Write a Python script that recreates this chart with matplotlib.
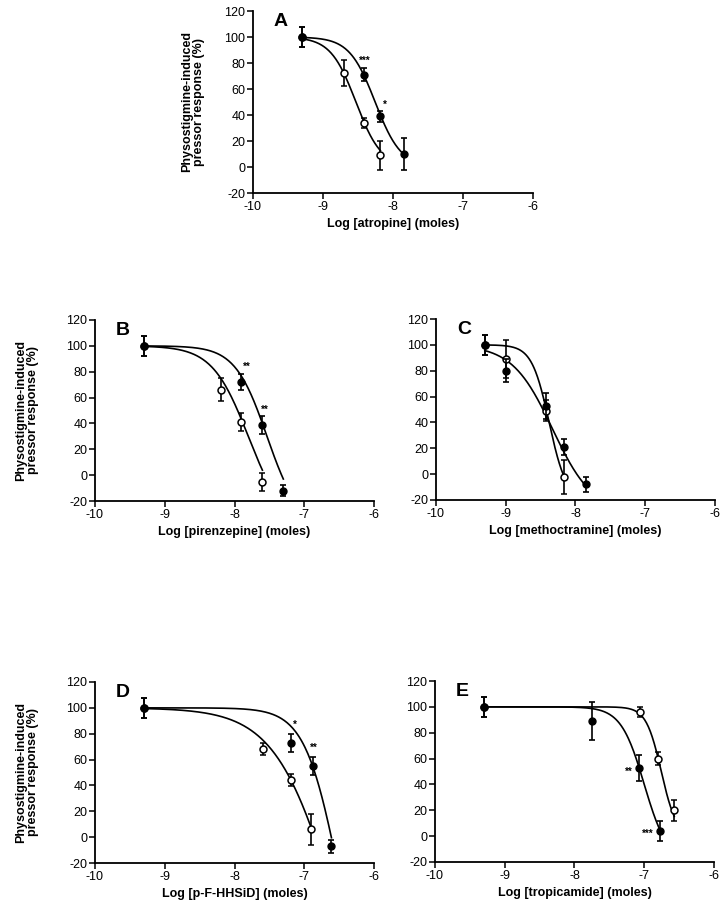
import numpy as np
import matplotlib
matplotlib.use("Agg")
import matplotlib.pyplot as plt

plt.rcParams['font.family'] = ['Liberation Sans', 'DejaVu Sans']
plt.rcParams['axes.unicode_minus'] = False

# --- data (log dose, % response, SEM) ---
# A: atropine
a_open_x = [-9.3, -8.7, -8.41, -8.18]
a_open_y = [100, 72, 34, 9]
a_open_e = [8, 10, 4, 11]
a_fill_x = [-9.3, -8.41, -8.18, -7.85]
a_fill_y = [100, 71, 39, 10]
a_fill_e = [8, 5, 4, 12]

# B: pirenzepine
b_open_x = [-9.3, -8.2, -7.9, -7.6]
b_open_y = [100, 66, 41, -5]
b_open_e = [8, 9, 7, 7]
b_fill_x = [-9.3, -7.9, -7.6, -7.3]
b_fill_y = [100, 72, 39, -12]
b_fill_e = [8, 6, 7, 4]

# C: methoctramine
c_open_x = [-9.3, -9.0, -8.42, -8.17]
c_open_y = [100, 89, 49, -2]
c_open_e = [8, 15, 8, 13]
c_fill_x = [-9.3, -9.0, -8.42, -8.17, -7.85]
c_fill_y = [100, 80, 53, 21, -8]
c_fill_e = [8, 9, 10, 6, 6]

# D: p-F-HHSiD
d_open_x = [-9.3, -7.585, -7.19, -6.9]
d_open_y = [100, 68, 44, 6]
d_open_e = [8, 4.5, 4.5, 12]
d_fill_x = [-9.3, -7.19, -6.88, -6.61]
d_fill_y = [100, 73, 55, -7]
d_fill_e = [8, 7, 7, 5]

# E: tropicamide
e_open_x = [-9.3, -7.06, -6.8, -6.57]
e_open_y = [100, 96, 60, 20]
e_open_e = [8, 4, 5, 8]
e_fill_x = [-9.3, -7.75, -7.08, -6.77]
e_fill_y = [100, 89, 53, 4]
e_fill_e = [8, 14.5, 10, 8]

# fitted sigmoid parameters (top, bottom, logIC50, hill) as drawn
fits = {
    'A': [(100, 0, -8.53, 2.4), (100, 0, -8.255, 2.36)],
    'B': [(100, -40, -7.803, 1.68), (100, -40, -7.534, 1.9)],
    'C': [(100, -20, -8.378, 3.5), (100, -30, -8.33, 1.5)],
    'D': [(100, -200, -6.551, 1.0), (100, -150, -6.514, 1.8)],
    'E': [(100, 0, -6.756, 4.0), (100, -20, -7.0, 2.6)],
}

# significance marks: (x, y, text, ha, va)
stars = {
    'A': [(-8.4, 78, '***', 'center', 'bottom'), (-8.12, 44, '*', 'center', 'bottom')],
    'B': [(-7.83, 80, '**', 'center', 'bottom'), (-7.56, 47, '**', 'center', 'bottom')],
    'C': [],
    'D': [(-7.13, 83, '*', 'center', 'bottom'), (-6.86, 65, '**', 'center', 'bottom')],
    'E': [(-7.17, 50, '**', 'right', 'center'), (-6.86, 2, '***', 'right', 'center')],
}

drugs = {'A': 'atropine', 'B': 'pirenzepine', 'C': 'methoctramine',
         'D': 'p-F-HHSiD', 'E': 'tropicamide'}

series = {
    'A': (a_open_x, a_open_y, a_open_e, a_fill_x, a_fill_y, a_fill_e),
    'B': (b_open_x, b_open_y, b_open_e, b_fill_x, b_fill_y, b_fill_e),
    'C': (c_open_x, c_open_y, c_open_e, c_fill_x, c_fill_y, c_fill_e),
    'D': (d_open_x, d_open_y, d_open_e, d_fill_x, d_fill_y, d_fill_e),
    'E': (e_open_x, e_open_y, e_open_e, e_fill_x, e_fill_y, e_fill_e),
}

W, H = 721, 911
fig = plt.figure(figsize=(W / 100, H / 100), dpi=100)

# axes boxes in pixels: left, top, width, height
boxes = {
    'A': (253, 11, 280, 182),
    'B': (95, 320, 279, 181),
    'C': (436, 319, 279, 181),
    'D': (95, 682, 279, 181),
    'E': (435, 681, 279, 181),
}


def sigmoid(x, top, bottom, c, h):
    return bottom + (top - bottom) / (1 + 10 ** ((x - c) * h))


for key, (l, t, w, h) in boxes.items():
    ax = fig.add_axes([l / W, (H - t - h) / H, w / W, h / H])
    ox, oy, oe, fx, fy, fe = series[key]

    # curves over the dose range of each series
    for (xs, p) in zip((ox, fx), fits[key]):
        xx = np.linspace(min(xs), max(xs), 200)
        ax.plot(xx, sigmoid(xx, *p), color='black', lw=1.2, zorder=2)

    ax.errorbar(ox, oy, yerr=oe, fmt='o', ms=5, mfc='white', mec='black',
                mew=1.1, ecolor='black', elinewidth=1.2, capsize=2.5,
                capthick=1.2, zorder=3)
    ax.errorbar(fx, fy, yerr=fe, fmt='o', ms=5, mfc='black', mec='black',
                ecolor='black', elinewidth=1.2, capsize=2.5, capthick=1.2,
                zorder=4)

    for sx, sy, s, ha, va in stars[key]:
        ax.text(sx, sy, s, ha=ha, va=va, fontsize=7, fontweight='bold')

    ax.text(-9.7, 112, key, fontsize=14, fontweight='bold', va='center')

    ax.set_xlim(-10, -6)
    ax.set_ylim(-20, 120)
    ax.set_xticks([-10, -9, -8, -7, -6])
    ax.set_yticks(range(-20, 121, 20))
    ax.spines['top'].set_visible(False)
    ax.spines['right'].set_visible(False)
    for s in ('left', 'bottom'):
        ax.spines[s].set_linewidth(1.3)
    ax.tick_params(direction='out', length=4, width=1.1, labelsize=9, pad=1.5)
    ax.set_xlabel(f"Log [{drugs[key]}] (moles)", fontsize=9,
                  fontweight='bold', labelpad=4)
    if key in ('A', 'B', 'D'):
        ax.set_ylabel("Physostigmine-induced\npressor response (%)",
                      fontsize=9, fontweight='bold', linespacing=1.0)
        ax.yaxis.set_label_coords(-0.17 if key == 'A' else -0.2, 0.5)

fig.savefig("out.png", dpi=100)
